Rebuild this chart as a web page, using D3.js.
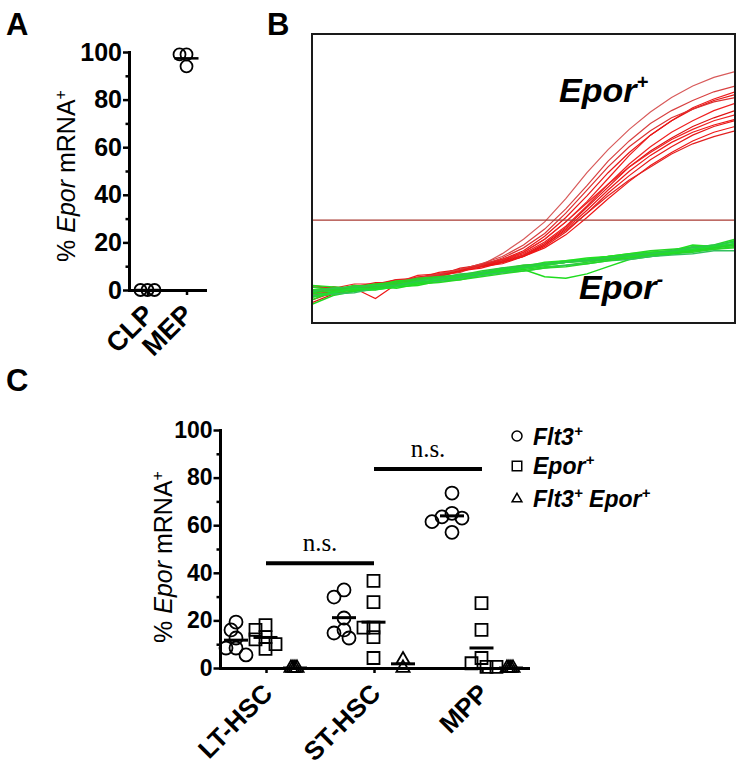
<!DOCTYPE html>
<html><head><meta charset="utf-8">
<script src="https://cdn.jsdelivr.net/npm/d3@7"></script>
<style>body{margin:0;background:#fff} svg{display:block}</style>
</head><body>
<svg id="c" width="744" height="766"></svg>
<script>
// ---------- DATA ----------
const panelACats = ["CLP", "MEP"];
const panelAValues = [[0, 0, 0], [99, 99, 94]];
const yTicks = [0, 20, 40, 60, 80, 100];
const yMinorTicks = [10, 30, 50, 70, 90];

const cycles = [0,2,4,6,8,10,12,14,16,18,20,22,24,26,28,30,32,34,36,38,40];
const redCurves = [
  [10,11,12.5,12,14,15,16.5,18,20,24,29,35,43,52,60,67,73,78,82,85,87],
  [11,12.5,11.5,13,14.5,15.5,16.5,18,19.5,21.5,24.5,29,35,42,50,58,65,70,74.5,77.5,80],
  [8,10.5,12,11.5,14.5,15,17,18.5,20,22,25,30,36.5,44,52,59,65,70,74,77,79],
  [12.5,12,13.5,13.5,14,16.5,17,18,20,21.5,24,28,33.5,40.5,48,55,61,66,70,73.5,76],
  [7,10,11,13,13.5,15,16,18,19.5,21,23.5,27.5,33,40,47,54,59.5,64,68,71,73.5],
  [10,12.5,11.5,13,15,15.5,17,18.5,20.5,22,24.5,29,35,41.5,48,54,59,63.5,67,70,72],
  [11,11,12.5,14,14,16,16.5,18,19.5,20.5,23,26.5,31.5,38,45,51,56.5,61,65,68,70],
  [9.5,11,13,12,14,15.5,17.5,18.5,20,21,23,26,30.5,36.5,43,49,54.5,59,63,66,68],
  [13,12,12,13.5,15,15,16.5,19,20,21.5,23.5,27,32,38,44,49.5,54,58.5,62,64.5,66.5],
  [10.5,11,12,13,13.5,15,16.5,17.5,20,22.5,26,31,38,46,54,61,66.5,71,74,76.5,78],
  [11.5,12,11,13,14.5,15.5,17,18.5,20.5,23,27,32.5,39.5,47.5,56,63,69,73.5,77,80,82],
  [9,10,12,8.5,13.5,14.5,16,18,19,21,23,27,32.5,39,46,52.5,58,62.5,66,68.5,70.5]
];
const greenCurves = [
  [10,10.5,11.5,12,13,14,14.5,15.5,17,18,19,20,21,21.5,22.5,23,24,24.5,25,26,27.5],
  [9,10,11,12.5,12,13.5,15,16,16.5,17.5,18.5,19.5,20,21,22,22.5,23,24,24.5,25.5,26.5],
  [13,12.5,12,13,14.5,15,15.5,16.5,17.5,18.5,19.5,20.5,21.5,22,23,23.5,24.5,25,25.5,26.5,28.5],
  [11,11,12,13,13.5,14.5,15.5,17,17.5,18.5,20,20.5,21,22,22.5,23.5,24,25,26.5,26,27],
  [6.5,9.5,11,11.5,12.5,13,14.5,15,16.5,17.5,18.5,16,15.5,17,19.5,22,23,24,25,26,27],
  [10.5,11.5,13,12.5,13.5,15,16,16.5,17,18,19,20,21,22,23,24,25,25.5,26,27,29],
  [9.5,10,10.5,12,13,14,14.5,15.5,16.5,17.5,18,19,20,20.5,21.5,22,23,23.5,24,25,25],
  [11.5,12,12.5,13.5,14,14,15,16,17,18.5,19.5,21,21.5,22.5,23,24,24.5,25,27,26.5,28.5],
  [12.5,11.5,12,13,14,15.5,16,16.5,18,19,20,20.5,21,21.5,22,23,23.5,24.5,25,26,27],
  [8,11,11.5,12,13,13.5,14,15,16,17,18,19,19.5,20.5,21.5,22.5,23.5,24,25,25.5,26],
  [9,10.5,12,11.5,12.5,14,15,16,17,18,19,20,21,22,22.5,23,24,24.5,25.5,26.5,27.5],
  [11,12,12.5,13,13,14.5,15.5,16.5,17.5,19,19.5,20.5,21,21.5,22.5,23.5,24,25,26,27,28]
];
const thresholdValue = 35.6;

const cCats = ["LT-HSC", "ST-HSC", "MPP"];
const cSeries = ["Flt3+", "Epor+", "Flt3+ Epor+"];
const flt3Values = [[19.3, 16, 12.6, 8.4, 8.4, 5.5], [32.8, 29.8, 21, 16, 14.7, 12.6], [73.5, 65, 63.5, 63, 61.5, 57]];
const eporValues = [[18, 16, 13, 12, 10, 8], [36.6, 27.7, 17, 17, 13, 4.2], [27.3, 16, 4.2, 2, 0.5, 0.5]];
const dpValues = [[0, 0, 0, 0], [3.5, 0], [0, 0, 0, 0]];
const sigBars = [
  {from: "LT-HSC", to: "ST-HSC", value: 44, label: "n.s."},
  {from: "ST-HSC", to: "MPP", value: 83.6, label: "n.s."}
];

// ---------- HELPERS ----------
const SANS = "'Liberation Sans', Arial, Helvetica, sans-serif";
const SERIF = "'Liberation Serif', 'Times New Roman', serif";
const svg = d3.select("#c");

function dodge(vals, yScale, minDist, step) {
  const placed = [];
  return vals.map(v => {
    const y = yScale(v);
    let dx = 0;
    for (let k = 0; k < 40; k++) {
      const cand = k === 0 ? 0 : (k % 2 ? -1 : 1) * Math.ceil(k / 2) * step;
      if (placed.every(p => Math.hypot(cand - p.dx, y - p.y) >= minDist)) { dx = cand; break; }
    }
    placed.push({dx, y});
    return {v, y, dx};
  });
}

function styleAxis(g, fontSize) {
  g.select(".domain").attr("stroke", "#000").attr("stroke-width", 3).attr("stroke-linecap", "square");
  g.selectAll(".tick line").attr("stroke", "#000").attr("stroke-width", 2.5);
  g.selectAll(".tick text").style("font-family", SANS).style("font-weight", "bold")
    .style("font-size", fontSize + "px").attr("fill", "#000");
}

function yLabel(x, y) {
  const t = svg.append("text").attr("transform", `translate(${x},${y}) rotate(-90)`)
    .attr("text-anchor", "middle").style("font-family", SANS).style("font-size", "25px");
  t.append("tspan").text("% ");
  t.append("tspan").style("font-style", "italic").text("Epor");
  t.append("tspan").text(" mRNA");
  t.append("tspan").attr("dy", -9).style("font-size", "16px").text("+");
}

function panelLetter(txt, x, y) {
  svg.append("text").attr("x", x).attr("y", y).text(txt)
    .style("font-family", SANS).style("font-weight", "bold").style("font-size", "31px");
}

// ---------- PANEL A ----------
panelLetter("A", 6, 35);
const yA = d3.scaleLinear().domain([0, 100]).range([290, 52]);
const xA = d3.scalePoint().domain(panelACats).range([129, 205]).padding(0.474);

const gAy = svg.append("g").attr("transform", "translate(129,0)")
  .call(d3.axisLeft(yA).tickValues(yTicks).tickSize(6).tickSizeOuter(0).tickPadding(1));
styleAxis(gAy, 25);
const gAym = svg.append("g").attr("transform", "translate(129,0)")
  .call(d3.axisLeft(yA).tickValues(yMinorTicks).tickSize(3.5).tickSizeOuter(0).tickFormat(""));
styleAxis(gAym, 25);
const gAx = svg.append("g").attr("transform", "translate(0,290)")
  .call(d3.axisBottom(xA).tickSize(5).tickSizeOuter(0).tickFormat(""));
styleAxis(gAx, 25);
panelACats.forEach(c => {
  svg.append("text").attr("transform", `translate(${xA(c) + 8},316) rotate(-45)`)
    .attr("text-anchor", "end").text(c)
    .style("font-family", SANS).style("font-weight", "bold").style("font-size", "27px");
});
yLabel(75, 176);

panelAValues.forEach((vals, i) => {
  const cx = xA(panelACats[i]);
  const pts = dodge(vals, yA, 7, 7);
  svg.append("g").selectAll("circle").data(pts).join("circle")
    .attr("cx", d => cx + d.dx).attr("cy", d => d.y).attr("r", 6)
    .attr("fill", "none").attr("stroke", "#000").attr("stroke-width", 1.8);
  const m = d3.mean(vals);
  svg.append("line").attr("x1", cx - 12).attr("x2", cx + 12).attr("y1", yA(m)).attr("y2", yA(m))
    .attr("stroke", "#000").attr("stroke-width", 2.5);
});

// ---------- PANEL B ----------
panelLetter("B", 267, 35);
const xB = d3.scaleLinear().domain([0, 40]).range([312, 735]);
const yB = d3.scaleLinear().domain([0, 100]).range([323, 34]);
svg.append("defs").append("clipPath").attr("id", "clipB")
  .append("rect").attr("x", 312).attr("y", 34).attr("width", 423).attr("height", 289);
const gB = svg.append("g").attr("clip-path", "url(#clipB)");
const lineB = d3.line().x((d, i) => xB(cycles[i])).y(d => yB(d));
const redColors = ["#d85a5a", "#ee1a1a", "#e81515", "#f02020", "#e01010", "#ee2222", "#e81818", "#f01515", "#e22020", "#dd3030", "#d84040", "#ee1515"];
const greenColors = ["#22dd22", "#2ad82a", "#20e020", "#30c850", "#1edc1e", "#28d428", "#34c060", "#22e022", "#2ad02a", "#26d826", "#20dd30", "#2cc84a"];
gB.selectAll("path.red").data(redCurves).join("path").attr("class", "red")
  .attr("d", lineB).attr("fill", "none").attr("stroke", (d, i) => redColors[i]).attr("stroke-width", 1.2);
gB.selectAll("path.green").data(greenCurves).join("path").attr("class", "green")
  .attr("d", lineB).attr("fill", "none").attr("stroke", (d, i) => greenColors[i]).attr("stroke-width", 1.5);
gB.append("line").attr("x1", 312).attr("x2", 735).attr("y1", yB(thresholdValue)).attr("y2", yB(thresholdValue))
  .attr("stroke", "#a83a32").attr("stroke-width", 1.1);
svg.append("rect").attr("x", 312).attr("y", 34).attr("width", 423).attr("height", 289)
  .attr("fill", "none").attr("stroke", "#1a1a1a").attr("stroke-width", 2);

function bLabel(x, y, sup, supDy) {
  const t = svg.append("text").attr("x", x).attr("y", y)
    .style("font-family", SANS).style("font-weight", "bold").style("font-style", "italic").style("font-size", "34px");
  t.append("tspan").text("Epor");
  t.append("tspan").attr("dy", supDy).style("font-size", "20px").text(sup);
}
bLabel(559, 102, "+", -13);
bLabel(579, 299, "-", -13);

// ---------- PANEL C ----------
panelLetter("C", 6, 391);
const yC = d3.scaleLinear().domain([0, 100]).range([668, 430]);
const xC = d3.scalePoint().domain(cCats).range([220, 528]).padding(0.426);
const offC = d3.scalePoint().domain(cSeries).range([-30, 29]);

const gCy = svg.append("g").attr("transform", "translate(220,0)")
  .call(d3.axisLeft(yC).tickValues(yTicks).tickSize(6.5).tickSizeOuter(0).tickPadding(1));
styleAxis(gCy, 23);
const gCym = svg.append("g").attr("transform", "translate(220,0)")
  .call(d3.axisLeft(yC).tickValues(yMinorTicks).tickSize(3.5).tickSizeOuter(0).tickFormat(""));
styleAxis(gCym, 23);
const gCx = svg.append("g").attr("transform", "translate(0,668)")
  .call(d3.axisBottom(xC).tickSize(5).tickSizeOuter(0).tickFormat(""));
styleAxis(gCx, 23);
cCats.forEach(c => {
  svg.append("text").attr("transform", `translate(${xC(c) + 8},695) rotate(-45)`)
    .attr("text-anchor", "end").text(c)
    .style("font-family", SANS).style("font-weight", "bold").style("font-size", "26px");
});
yLabel(172, 557);

const seriesData = [flt3Values, eporValues, dpValues];
const triSym = d3.symbol().type(d3.symbolTriangle).size(75);
const sqSym = d3.symbol().type(d3.symbolSquare).size(144);
seriesData.forEach((groups, si) => {
  groups.forEach((vals, gi) => {
    const cx = xC(cCats[gi]) + offC(cSeries[si]);
    const pts = si === 2 ? dodge(vals, yC, 2, 2) : dodge(vals, yC, 9, 5);
    const g = svg.append("g");
    if (si === 0) {
      g.selectAll("circle").data(pts).join("circle")
        .attr("cx", d => cx + d.dx).attr("cy", d => d.y).attr("r", 6.5)
        .attr("fill", "none").attr("stroke", "#000").attr("stroke-width", 1.8);
    } else {
      g.selectAll("path").data(pts).join("path")
        .attr("transform", d => `translate(${cx + d.dx},${d.y})`)
        .attr("d", si === 1 ? sqSym() : triSym())
        .attr("fill", "none").attr("stroke", "#000").attr("stroke-width", 1.8);
    }
    const m = d3.mean(vals);
    svg.append("line").attr("x1", cx - 12).attr("x2", cx + 12).attr("y1", yC(m)).attr("y2", yC(m))
      .attr("stroke", "#000").attr("stroke-width", 3);
  });
});

sigBars.forEach(b => {
  const x1 = xC(b.from), x2 = xC(b.to), y = yC(b.value);
  svg.append("line").attr("x1", x1).attr("x2", x2).attr("y1", y).attr("y2", y)
    .attr("stroke", "#000").attr("stroke-width", 4);
  svg.append("text").attr("x", (x1 + x2) / 2).attr("y", y - 12).attr("text-anchor", "middle")
    .text(b.label).style("font-family", SERIF).style("font-size", "25px");
});

// legend
const legY = [436, 466, 499];
const legBase = [445, 474, 507];
const legSym = [
  g => g.append("circle").attr("r", 5),
  g => g.append("path").attr("d", d3.symbol().type(d3.symbolSquare).size(90)()),
  g => g.append("path").attr("d", d3.symbol().type(d3.symbolTriangle).size(42)())
];
cSeries.forEach((s, i) => {
  const g = svg.append("g").attr("transform", `translate(517,${legY[i]})`);
  legSym[i](g).attr("fill", "none").attr("stroke", "#000").attr("stroke-width", 1.5);
  const t = svg.append("text").attr("x", 533).attr("y", legBase[i])
    .style("font-family", SANS).style("font-weight", "bold").style("font-style", "italic").style("font-size", "23px");
  const parts = s.split(" ");
  parts.forEach((p, pi) => {
    const name = p.replace("+", "");
    t.append("tspan").attr("dy", pi === 0 ? 0 : 9).text((pi ? " " : "") + name);
    t.append("tspan").attr("dy", -9).style("font-size", "15px").text("+");
  });
});
</script>
</body></html>
